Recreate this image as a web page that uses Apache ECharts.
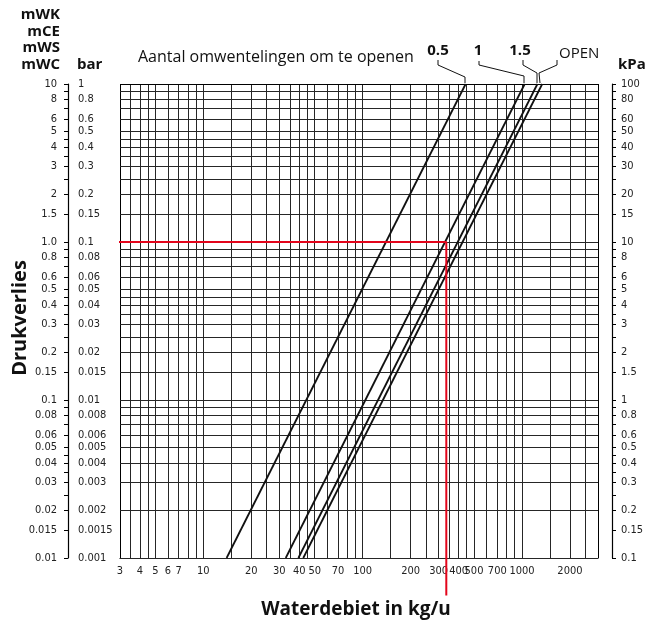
<!DOCTYPE html>
<html>
<head>
<meta charset="utf-8">
<script src="https://cdn.jsdelivr.net/npm/echarts@6/dist/echarts.min.js"></script>
<style>
html,body{margin:0;padding:0;background:#fff}
#main{width:656px;height:624px}
</style>
</head>
<body>
<div id="main"></div>
<script>
// drukverlies (mWK) at the bottom and top end of every line
var dpEnds = [0.01, 10];
// waterdebiet (kg/u) at those two ends, per number of turns
var flow05 = [14.0, 443];
var flow1 = [32.9, 1040];
var flow15 = [39.5, 1250];
var flowOpen = [42.4, 1340];
// red reading example
var redFlow = [2.7, 335, 335];
var redDp = [1, 1, 0.0058];

// grid steps inside one decade
var steps = [1, 1.5, 2, 2.5, 3, 3.5, 4, 4.5, 5, 6, 7, 8, 9];

var xLabels = ['3','4','5','6','7','10','20','30','40','50','70','100','200','300','400','500','700','1000','2000'];
var mwkLabels = ['10','8','6','5','4','3','2','1.5','1.0','0.8','0.6','0.5','0.4','0.3','0.2','0.15','0.1',
  '0.08','0.06','0.05','0.04','0.03','0.02','0.015','0.01'];
var barLabels = ['1','0.8','0.6','0.5','0.4','0.3','0.2','0.15','0.1','0.08','0.06','0.05','0.04','0.03','0.02','0.015','0.01',
  '0.008','0.006','0.005','0.004','0.003','0.002','0.0015','0.001'];
var kpaLabels = ['100','80','60','50','40','30','20','15','10','8','6','5','4','3','2','1.5','1',
  '0.8','0.6','0.5','0.4','0.3','0.2','0.15','0.1'];

var FONT = "'Liberation Sans Narrow','DejaVu Sans Condensed',sans-serif";
var TFONT = "'Open Sans','Noto Sans',sans-serif";

var gridValues = function(min, max) {
  var out = [];
  for (var e = Math.floor(Math.log10(min)); e <= Math.ceil(Math.log10(max)); e++) {
    for (var i = 0; i < steps.length; i++) {
      var v = +(steps[i] * Math.pow(10, e)).toPrecision(6);
      if (v >= min * 0.9999 && v <= max * 1.0001) out.push(v);
    }
  }
  return out;
};

var labelFor = function(list) {
  return function(v) {
    for (var i = 0; i < list.length; i++) {
      var n = Number(list[i]);
      if (Math.abs(n - v) / n < 1e-6) return list[i];
    }
    return '';
  };
};

var nums = function(list) { return list.map(Number); };

var xGrid = gridValues(3, 3000);
var yGrid = gridValues(0.01, 10);

var pts = function(flows) {
  return flows.map(function(f, i) { return [f, dpEnds[i]]; });
};

var gridLines = [];
xGrid.forEach(function(v) {
  var edge = (v === 3 || v === 3000);
  gridLines.push({ xAxis: v, lineStyle: { color: edge ? '#000' : '#262626', width: 1, type: 'solid' } });
});
yGrid.forEach(function(v) {
  var edge = (v === 0.01 || v === 10);
  gridLines.push({ yAxis: v, lineStyle: { color: edge ? '#000' : '#262626', width: 1, type: 'solid' } });
});

var curve = function(name, flows) {
  return {
    name: name,
    type: 'line',
    data: pts(flows),
    showSymbol: false,
    symbol: 'none',
    lineStyle: { color: '#111', width: 1.8 },
    z: 5
  };
};

var txt = function(text, x, y, size, weight, align, extra) {
  var o = {
    type: 'text',
    x: x, y: y,
    style: {
      text: text,
      fontSize: size,
      fontWeight: weight,
      fontFamily: TFONT,
      fill: '#111',
      textAlign: align,
      textVerticalAlign: 'middle'
    }
  };
  if (extra) for (var k in extra) o[k] = extra[k];
  return o;
};

var leader = function(points) {
  return { type: 'polyline', shape: { points: points }, style: { stroke: '#111', lineWidth: 1, fill: null } };
};

var option = {
  animation: false,
  backgroundColor: '#fff',
  grid: { left: 120, right: 58, top: 84, bottom: 66 },
  xAxis: {
    type: 'log', min: 3, max: 3000,
    axisLine: { show: true, lineStyle: { color: '#000', width: 1.2 } },
    axisTick: { show: false },
    splitLine: { show: false },
    axisLabel: {
      customValues: nums(xLabels),
      formatter: labelFor(xLabels),
      margin: 8, fontSize: 11, fontFamily: FONT, color: '#222'
    }
  },
  yAxis: [
    {
      type: 'log', min: 0.01, max: 10, position: 'left', offset: 52,
      axisLine: { show: true, lineStyle: { color: '#000', width: 1.2 } },
      axisTick: { show: true, inside: false, length: 4, customValues: yGrid, lineStyle: { color: '#000' } },
      splitLine: { show: false },
      axisLabel: {
        customValues: nums(mwkLabels),
        formatter: labelFor(mwkLabels),
        margin: 11, fontSize: 11, fontFamily: FONT, color: '#222'
      }
    },
    {
      type: 'log', min: 0.001, max: 1, position: 'left', offset: 52,
      axisLine: { show: false },
      axisTick: { show: false },
      splitLine: { show: false },
      axisLabel: {
        inside: true,
        customValues: nums(barLabels),
        formatter: labelFor(barLabels),
        margin: 10, fontSize: 11, fontFamily: FONT, color: '#222'
      }
    },
    {
      type: 'log', min: 0.1, max: 100, position: 'right', offset: 14,
      axisLine: { show: true, lineStyle: { color: '#000', width: 1.2 } },
      axisTick: { show: true, inside: false, length: 4, customValues: gridValues(0.1, 100), lineStyle: { color: '#000' } },
      splitLine: { show: false },
      axisLabel: {
        customValues: nums(kpaLabels),
        formatter: labelFor(kpaLabels),
        margin: 9, fontSize: 11, fontFamily: FONT, color: '#222'
      }
    }
  ],
  series: [
    {
      name: 'grid',
      type: 'line',
      data: [],
      silent: true,
      markLine: {
        silent: true,
        symbol: ['none', 'none'],
        label: { show: false },
        emphasis: { disabled: true },
        data: gridLines
      },
      z: 1
    },
    curve('0.5', flow05),
    curve('1', flow1),
    curve('1.5', flow15),
    curve('OPEN', flowOpen),
    {
      name: 'voorbeeld',
      type: 'line',
      data: redFlow.map(function(f, i) { return [f, redDp[i]]; }),
      showSymbol: false,
      symbol: 'none',
      clip: false,
      lineStyle: { color: '#e3051b', width: 2 },
      z: 6
    }
  ],
  graphic: [
    txt('mWK', 60, 15, 15, 'bold', 'right', null),
    txt('mCE', 60, 32, 15, 'bold', 'right', null),
    txt('mWS', 60, 48, 15, 'bold', 'right', null),
    txt('mWC', 60, 65, 15, 'bold', 'right', null),
    txt('bar', 77, 65, 15, 'bold', 'left', null),
    txt('kPa', 618, 65, 15, 'bold', 'left', null),
    txt('Aantal omwentelingen om te openen', 138, 57, 16, 'normal', 'left', null),
    txt('0.5', 438, 51, 15, 'bold', 'center', null),
    txt('1', 478, 51, 15, 'bold', 'center', null),
    txt('1.5', 520, 51, 15, 'bold', 'center', null),
    txt('OPEN', 559, 54, 15, 'normal', 'left', null),
    leader([[438, 60], [438, 65], [465, 77], [465, 83]]),
    leader([[479, 61], [479, 65], [524, 76], [524, 83]]),
    leader([[523, 60], [523, 65], [537, 73]]),
    leader([[557, 60], [557, 65], [539, 73]]),
    leader([[537, 73], [537, 83]]),
    leader([[539, 73], [540, 83]]),
    txt('Drukverlies', 20, 318, 20, 'bold', 'center', { rotation: Math.PI / 2 }),
    txt('Waterdebiet in kg/u', 356, 610, 19, 'bold', 'center', null)
  ]
};

var chart = echarts.init(document.getElementById('main'), null, { renderer: 'canvas' });
chart.setOption(option);
</script>
</body>
</html>
